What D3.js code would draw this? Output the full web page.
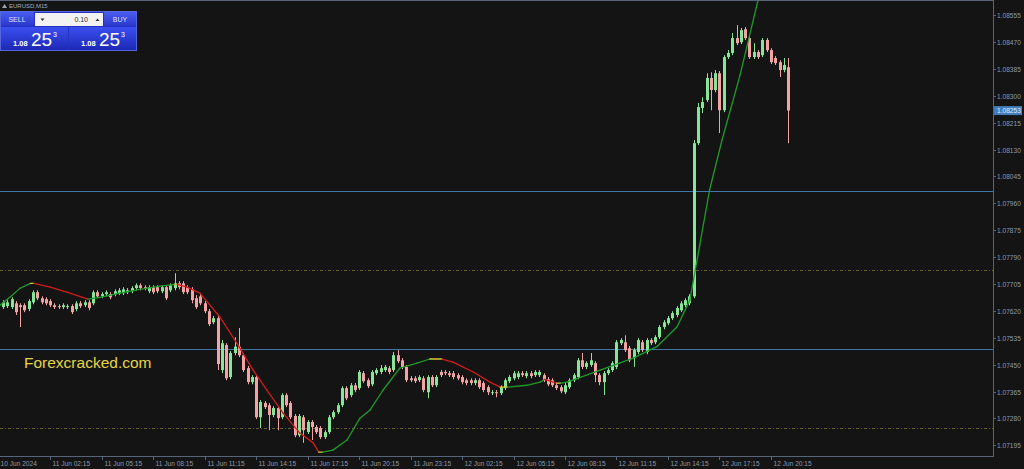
<!DOCTYPE html>
<html><head><meta charset="utf-8">
<script src="https://cdn.jsdelivr.net/npm/d3@7"></script>
<style>html,body{margin:0;padding:0;background:#151515;overflow:hidden}</style>
</head><body><svg id="c" width="1024" height="469"></svg>
<script>
// ---- data (EURUSD M15, bars 0..183) ----
const openP=[
1.07632,1.07635,1.07632,1.07644,1.07638,1.07638,1.07626,1.07647,1.07679,1.07660,
1.07657,1.07651,1.07638,1.07635,1.07632,1.07632,1.07635,1.07626,1.07644,1.07638,
1.07647,1.07644,1.07679,1.07666,1.07673,1.07673,1.07673,1.07676,1.07676,1.07679,
1.07682,1.07692,1.07701,1.07695,1.07682,1.07695,1.07695,1.07682,1.07695,1.07685,
1.07692,1.07707,1.07707,1.07695,1.07688,1.07660,1.07666,1.07644,1.07619,1.07584,
1.07597,1.07433,1.07512,1.07411,1.07487,1.07507,1.07480,1.07439,1.07395,1.07411,
1.07284,1.07329,1.07322,1.07291,1.07313,1.07284,1.07354,1.07329,1.07288,1.07227,
1.07284,1.07237,1.07269,1.07253,1.07250,1.07221,1.07237,1.07284,1.07300,1.07322,
1.07376,1.07354,1.07385,1.07376,1.07423,1.07401,1.07388,1.07423,1.07427,1.07433,
1.07439,1.07433,1.07480,1.07464,1.07443,1.07407,1.07407,1.07401,1.07407,1.07363,
1.07411,1.07385,1.07427,1.07427,1.07423,1.07423,1.07417,1.07411,1.07401,1.07401,
1.07392,1.07401,1.07392,1.07379,1.07360,1.07363,1.07360,1.07376,1.07398,1.07407,
1.07411,1.07423,1.07414,1.07423,1.07417,1.07417,1.07417,1.07404,1.07401,1.07385,
1.07379,1.07363,1.07379,1.07401,1.07411,1.07464,1.07443,1.07449,1.07455,1.07417,
1.07395,1.07423,1.07433,1.07443,1.07518,1.07521,1.07502,1.07471,1.07490,1.07521,
1.07490,1.07528,1.07521,1.07537,1.07569,1.07581,1.07597,1.07607,1.07622,1.07638,
1.07644,1.07666,1.08150,1.08261,1.08286,1.08356,1.08318,1.08371,1.08254,1.08422,
1.08435,1.08482,1.08469,1.08510,1.08482,1.08422,1.08438,1.08428,1.08476,1.08444,
1.08419,1.08406,1.08381,1.08390];
const highP=[
1.07654,1.07654,1.07663,1.07651,1.07644,1.07644,1.07657,1.07685,1.07685,1.07666,
1.07663,1.07657,1.07644,1.07641,1.07644,1.07641,1.07641,1.07651,1.07651,1.07654,
1.07654,1.07685,1.07685,1.07679,1.07685,1.07679,1.07688,1.07692,1.07695,1.07692,
1.07698,1.07707,1.07707,1.07701,1.07701,1.07701,1.07701,1.07701,1.07701,1.07707,
1.07739,1.07714,1.07714,1.07701,1.07695,1.07670,1.07673,1.07651,1.07626,1.07604,
1.07604,1.07528,1.07518,1.07493,1.07537,1.07566,1.07487,1.07446,1.07417,1.07417,
1.07338,1.07335,1.07329,1.07319,1.07319,1.07360,1.07360,1.07335,1.07294,1.07294,
1.07291,1.07275,1.07275,1.07259,1.07256,1.07243,1.07291,1.07306,1.07329,1.07382,
1.07382,1.07392,1.07392,1.07433,1.07430,1.07407,1.07433,1.07439,1.07449,1.07449,
1.07446,1.07490,1.07496,1.07471,1.07449,1.07414,1.07414,1.07417,1.07414,1.07417,
1.07417,1.07417,1.07433,1.07433,1.07430,1.07430,1.07423,1.07417,1.07407,1.07407,
1.07407,1.07407,1.07398,1.07385,1.07370,1.07370,1.07385,1.07407,1.07417,1.07430,
1.07430,1.07430,1.07430,1.07430,1.07433,1.07433,1.07423,1.07411,1.07407,1.07392,
1.07385,1.07392,1.07407,1.07423,1.07471,1.07487,1.07461,1.07487,1.07461,1.07423,
1.07430,1.07439,1.07461,1.07528,1.07534,1.07543,1.07509,1.07502,1.07534,1.07528,
1.07534,1.07534,1.07543,1.07575,1.07591,1.07604,1.07619,1.07635,1.07651,1.07660,
1.07673,1.08160,1.08277,1.08295,1.08371,1.08374,1.08381,1.08378,1.08428,1.08444,
1.08498,1.08523,1.08514,1.08517,1.08488,1.08466,1.08444,1.08482,1.08482,1.08450,
1.08425,1.08412,1.08419,1.08419];
const lowP=[
1.07626,1.07629,1.07626,1.07607,1.07569,1.07616,1.07619,1.07641,1.07654,1.07641,
1.07638,1.07632,1.07626,1.07626,1.07626,1.07626,1.07610,1.07619,1.07629,1.07632,
1.07622,1.07638,1.07660,1.07660,1.07666,1.07657,1.07666,1.07670,1.07670,1.07673,
1.07676,1.07685,1.07685,1.07685,1.07676,1.07673,1.07676,1.07676,1.07654,1.07679,
1.07685,1.07688,1.07673,1.07673,1.07644,1.07626,1.07638,1.07613,1.07572,1.07578,
1.07433,1.07423,1.07401,1.07404,1.07480,1.07474,1.07427,1.07388,1.07388,1.07278,
1.07250,1.07310,1.07243,1.07284,1.07243,1.07278,1.07316,1.07278,1.07221,1.07221,
1.07203,1.07231,1.07212,1.07231,1.07215,1.07215,1.07231,1.07278,1.07294,1.07316,
1.07338,1.07347,1.07363,1.07370,1.07392,1.07376,1.07382,1.07417,1.07420,1.07427,
1.07420,1.07427,1.07455,1.07436,1.07395,1.07395,1.07392,1.07395,1.07363,1.07344,
1.07379,1.07379,1.07411,1.07417,1.07411,1.07404,1.07401,1.07388,1.07385,1.07385,
1.07385,1.07373,1.07363,1.07354,1.07354,1.07347,1.07354,1.07370,1.07392,1.07401,
1.07404,1.07411,1.07407,1.07407,1.07411,1.07411,1.07395,1.07382,1.07379,1.07370,
1.07360,1.07357,1.07373,1.07395,1.07404,1.07436,1.07436,1.07443,1.07395,1.07385,
1.07354,1.07417,1.07427,1.07436,1.07512,1.07490,1.07458,1.07443,1.07483,1.07490,
1.07483,1.07512,1.07515,1.07531,1.07562,1.07575,1.07591,1.07600,1.07616,1.07632,
1.07638,1.07660,1.08144,1.08245,1.08280,1.08254,1.08311,1.08182,1.08248,1.08416,
1.08428,1.08460,1.08463,1.08476,1.08416,1.08416,1.08416,1.08422,1.08438,1.08400,
1.08397,1.08359,1.08374,1.08150];
const closeP=[
1.07647,1.07647,1.07657,1.07616,1.07632,1.07622,1.07651,1.07679,1.07660,1.07647,
1.07644,1.07638,1.07632,1.07632,1.07638,1.07635,1.07616,1.07644,1.07635,1.07647,
1.07629,1.07679,1.07666,1.07673,1.07679,1.07663,1.07682,1.07685,1.07688,1.07685,
1.07692,1.07701,1.07692,1.07692,1.07695,1.07679,1.07682,1.07695,1.07660,1.07701,
1.07707,1.07695,1.07679,1.07679,1.07654,1.07632,1.07644,1.07619,1.07578,1.07597,
1.07452,1.07518,1.07407,1.07487,1.07507,1.07480,1.07433,1.07395,1.07411,1.07284,
1.07332,1.07316,1.07291,1.07313,1.07281,1.07354,1.07322,1.07284,1.07227,1.07288,
1.07243,1.07269,1.07253,1.07237,1.07221,1.07237,1.07284,1.07300,1.07322,1.07376,
1.07344,1.07385,1.07370,1.07427,1.07398,1.07382,1.07427,1.07433,1.07439,1.07443,
1.07427,1.07480,1.07461,1.07443,1.07401,1.07401,1.07398,1.07411,1.07370,1.07411,
1.07385,1.07411,1.07417,1.07423,1.07417,1.07411,1.07407,1.07395,1.07392,1.07392,
1.07401,1.07379,1.07370,1.07363,1.07363,1.07360,1.07379,1.07401,1.07411,1.07423,
1.07423,1.07417,1.07423,1.07414,1.07427,1.07427,1.07401,1.07388,1.07385,1.07376,
1.07366,1.07385,1.07401,1.07417,1.07464,1.07443,1.07455,1.07464,1.07417,1.07395,
1.07423,1.07433,1.07455,1.07521,1.07528,1.07496,1.07464,1.07496,1.07528,1.07496,
1.07528,1.07518,1.07537,1.07569,1.07584,1.07597,1.07613,1.07629,1.07644,1.07654,
1.07666,1.08150,1.08264,1.08280,1.08356,1.08318,1.08371,1.08254,1.08422,1.08435,
1.08482,1.08466,1.08507,1.08482,1.08422,1.08438,1.08422,1.08476,1.08444,1.08406,
1.08403,1.08381,1.08397,1.08253];

// moving-average indicator (bar position, value)
const maBar=[-0.7,1.6,4.0,6.4,7.2,11.0,14.9,19.8,22.6,27.3,31.9,36.6,40.1,40.6,42.9,45.9,50.6,54.5,58.3,61.5,65.3,69.2,72.3,73.6,74.5,76.9,80.2,83.2,85.5,88.6,92.5,96.5,99.5,102.3,104.9,109.6,113.5,115.9,117.5,122.1,125.2,126.3,129.0,130.0,131.5,139.2,146.9,152.4,157.1,160.1,162.4,164.7,167.6,171.8,176.0,180.0];
const maVal=[1.07638,1.07663,1.07692,1.07707,1.07707,1.07695,1.07679,1.07657,1.07663,1.07676,1.07688,1.07698,1.07704,1.07704,1.07695,1.07676,1.07600,1.07518,1.07433,1.07370,1.07297,1.07234,1.07203,1.07174,1.07174,1.07180,1.07212,1.07281,1.07306,1.07370,1.07439,1.07455,1.07468,1.07468,1.07458,1.07427,1.07395,1.07379,1.07379,1.07385,1.07395,1.07404,1.07392,1.07392,1.07395,1.07433,1.07471,1.07507,1.07569,1.07654,1.07828,1.08002,1.08160,1.08365,1.08602,1.08744];

const priceTicks=[1.08555,1.08470,1.08385,1.08300,1.08215,1.08130,1.08045,1.07960,1.07875,1.07790,1.07705,1.07620,1.07535,1.07450,1.07365,1.07280,1.07195];
const timeTickBars=[11,23,35,47,59,71,83,95,107,119,131,143,155,167,179];
const timeLabels=["11 Jun 02:15","11 Jun 05:15","11 Jun 08:15","11 Jun 11:15","11 Jun 14:15","11 Jun 17:15","11 Jun 20:15","11 Jun 23:15","12 Jun 02:15","12 Jun 05:15","12 Jun 08:15","12 Jun 11:15","12 Jun 14:15","12 Jun 17:15","12 Jun 20:15"];
const firstLabel="10 Jun 2024";
const solidLevels=[1.08000,1.07500];
const dashedLevels=[1.07750,1.07250];
const lastPrice=1.08253;
const symbolLabel="EURUSD,M15";
const lotSize="0.10";
const bidBig=["1.08","25","3"];
const askBig=["1.08","25","3"];
const watermark="Forexcracked.com";

// ---- drawing ----
const svg=d3.select("#c");
const PW=993, PH=456;
const x=d3.scaleLinear().domain([0,183]).range([3,788.1]);
const y=d3.scaleLinear().domain([1.08555,1.07195]).range([15,445.4]);
const axisCol="#56657a", txtCol="#8c99ad";
const font="'Liberation Sans', Arial, sans-serif";

svg.append("rect").attr("width",1024).attr("height",469).attr("fill","#141414");
svg.append("defs").append("clipPath").attr("id","plot").append("rect").attr("x",0).attr("y",1).attr("width",PW).attr("height",PH-1);
const g=svg.append("g").attr("clip-path","url(#plot)");

// levels
g.selectAll(".sl").data(solidLevels).join("line")
 .attr("x1",0).attr("x2",PW).attr("y1",d=>Math.round(y(d))+0.5).attr("y2",d=>Math.round(y(d))+0.5)
 .attr("stroke","#3f77ad").attr("stroke-width",1);
g.selectAll(".dl").data(dashedLevels).join("line")
 .attr("x1",0).attr("x2",PW).attr("y1",d=>Math.round(y(d))+0.5).attr("y2",d=>Math.round(y(d))+0.5)
 .attr("stroke","#6e5c26").attr("stroke-width",1).attr("stroke-dasharray","3,2,1,2");

// candles
const bars=d3.range(openP.length).map(i=>({i,o:openP[i],h:highP[i],l:lowP[i],c:closeP[i]}));
const bull="#86e596", bear="#f2a4a4";
const cg=g.append("g");
bars.forEach(b=>{
  const cx=Math.round(x(b.i));
  const col=b.c>=b.o?bull:bear;
  cg.append("line").attr("x1",cx+0.5).attr("x2",cx+0.5).attr("y1",y(b.h)).attr("y2",y(b.l)).attr("stroke",col).attr("stroke-width",1);
  const y0=Math.min(y(b.o),y(b.c)), y1=Math.max(y(b.o),y(b.c));
  cg.append("rect").attr("x",cx-1).attr("y",y0).attr("width",3).attr("height",Math.max(1,y1-y0)).attr("fill",col);
});

// MA indicator segments coloured by direction
const ma=maBar.map((b,k)=>({b,v:maVal[k]}));
for(let k=0;k<ma.length-1;k++){
  const a=ma[k], n=ma[k+1];
  const col=n.v>a.v?"#1f9a2b":(n.v<a.v?"#d21c1c":"#d9c83a");
  g.append("line").attr("x1",x(a.b)).attr("y1",y(a.v)).attr("x2",x(n.b)).attr("y2",y(n.v))
   .attr("stroke",col).attr("stroke-width",1.3).attr("stroke-linecap","round");
}

// frame
svg.append("line").attr("x1",0).attr("x2",PW).attr("y1",0.5).attr("y2",0.5).attr("stroke",axisCol);
svg.append("line").attr("x1",PW+0.5).attr("x2",PW+0.5).attr("y1",0).attr("y2",PH+1).attr("stroke",axisCol);
svg.append("line").attr("x1",0).attr("x2",PW).attr("y1",PH+0.5).attr("y2",PH+0.5).attr("stroke",axisCol);

// price axis
const pa=svg.append("g");
priceTicks.forEach(p=>{
  const yy=Math.round(y(p))+0.5;
  pa.append("line").attr("x1",PW).attr("x2",PW+3).attr("y1",yy).attr("y2",yy).attr("stroke",axisCol);
  pa.append("text").attr("x",997).attr("y",yy+2.3).attr("fill",txtCol).attr("font-family",font).attr("font-size",6.6).text(p.toFixed(5));
});
const ly=y(lastPrice);
pa.append("rect").attr("x",994).attr("y",ly-4.5).attr("width",28).attr("height",9).attr("fill","#3f7dbd");
pa.append("text").attr("x",997).attr("y",ly+2.3).attr("fill","#e4eef8").attr("font-family",font).attr("font-size",6.6).text(lastPrice.toFixed(5));

// time axis
const ta=svg.append("g");
timeTickBars.forEach((b,k)=>{
  const xx=Math.round(x(b))+0.5;
  ta.append("line").attr("x1",xx).attr("x2",xx).attr("y1",PH).attr("y2",PH+4).attr("stroke",axisCol);
  ta.append("text").attr("x",xx+2).attr("y",466).attr("fill",txtCol).attr("font-family",font).attr("font-size",6.6).text(timeLabels[k]);
});
ta.append("text").attr("x",0.5).attr("y",466).attr("fill",txtCol).attr("font-family",font).attr("font-size",6.6).text(firstLabel);

// watermark
svg.append("text").attr("x",24).attr("y",368).attr("fill","#e3d548").attr("font-family",font).attr("font-size",15.5).text(watermark);

// header & one-click trading panel
svg.append("path").attr("d","M2,8 L4.5,4 L7,8 Z").attr("fill","#9aa3ad");
svg.append("text").attr("x",9).attr("y",8).attr("fill","#a4acb6").attr("font-family",font).attr("font-size",6).text(symbolLabel);
const defs=svg.select("defs");
const gr=defs.append("linearGradient").attr("id","bl").attr("x1",0).attr("y1",0).attr("x2",0).attr("y2",1);
gr.append("stop").attr("offset",0).attr("stop-color","#3b4ff0");
gr.append("stop").attr("offset",1).attr("stop-color","#1d29b5");
const gb=defs.append("linearGradient").attr("id","bt").attr("x1",0).attr("y1",0).attr("x2",0).attr("y2",1);
gb.append("stop").attr("offset",0).attr("stop-color","#4a5cf0");
gb.append("stop").attr("offset",1).attr("stop-color","#2a37cc");
const pn=svg.append("g").attr("font-family",font);
pn.append("rect").attr("x",0.5).attr("y",11.5).attr("width",136).attr("height",39).attr("fill","#2430c0").attr("stroke","#5566dd");
pn.append("rect").attr("x",1).attr("y",12).attr("width",33).attr("height",14).attr("fill","url(#bt)");
pn.append("text").attr("x",17).attr("y",21.5).attr("text-anchor","middle").attr("fill","#dfe4ff").attr("font-size",7).text("SELL");
pn.append("rect").attr("x",35).attr("y",13).attr("width",68).attr("height",13).attr("fill","#f2f2f2");
pn.append("path").attr("d","M40.5,18.5 L44.5,18.5 L42.5,21 Z").attr("fill","#333");
pn.append("path").attr("d","M95.5,21 L99.5,21 L97.5,18.5 Z").attr("fill","#333");
pn.append("text").attr("x",88).attr("y",22).attr("text-anchor","end").attr("fill","#333").attr("font-size",7).text(lotSize);
pn.append("rect").attr("x",104).attr("y",12).attr("width",32).attr("height",14).attr("fill","url(#bt)");
pn.append("text").attr("x",120).attr("y",21.5).attr("text-anchor","middle").attr("fill","#dfe4ff").attr("font-size",7).text("BUY");
[[1,bidBig,13],[69,askBig,81]].forEach(([px,t,tx])=>{
  pn.append("rect").attr("x",px).attr("y",27).attr("width",67).attr("height",23).attr("fill","url(#bl)");
  pn.append("text").attr("x",tx).attr("y",46).attr("fill","#ffffff").attr("font-size",7.5).attr("font-weight","bold").text(t[0]);
  pn.append("text").attr("x",tx+18).attr("y",46).attr("fill","#ffffff").attr("font-size",19).text(t[1]);
  pn.append("text").attr("x",tx+40).attr("y",37).attr("fill","#ffffff").attr("font-size",7).text(t[2]);
});
</script></body></html>
